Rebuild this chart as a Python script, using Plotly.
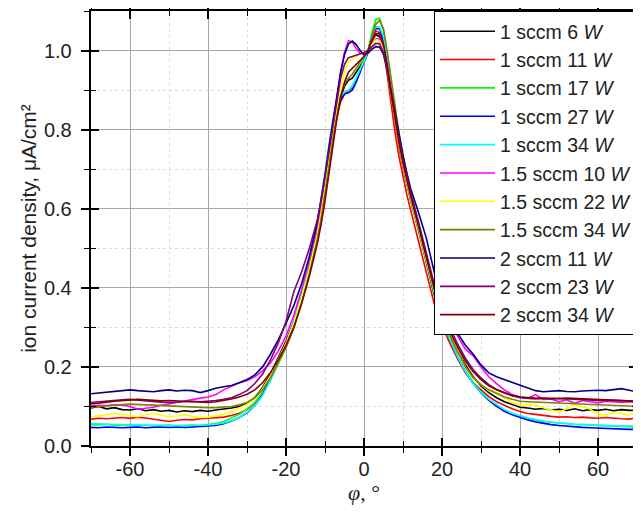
import plotly.graph_objects as go

phi = [-70, -68, -66, -64, -62, -60, -58, -56, -54, -52, -50, -48, -46, -44, -42,
       -40, -38, -36, -34, -32, -30, -28, -26, -24, -22, -20, -18, -16, -14, -12,
       -11, -10, -9, -8, -7, -6, -5, -4, -3, -2, -1, 0, 1, 2, 3, 4, 5, 6, 7, 8, 9, 10, 11,
       12, 14, 16, 18, 20, 22, 24, 26, 28, 30, 32, 34, 36, 38, 40, 42, 44, 46, 48, 50,
       52, 54, 56, 58, 60, 62, 64, 66, 68, 70]

x_tick_vals = [-60, -40, -20, 0, 20, 40, 60]
x_tick_text = ["-60", "-40", "-20", "0", "20", "40", "60"]
y_tick_vals = [0.0, 0.2, 0.4, 0.6, 0.8, 1.0]
y_tick_text = ["0.0", "0.2", "0.4", "0.6", "0.8", "1.0"]

s_1_6 = [0.096, 0.100, 0.094, 0.097, 0.092, 0.091, 0.094, 0.089, 0.092, 0.088, 0.090, 0.086, 0.089, 0.087, 0.090,
         0.088, 0.091, 0.093, 0.096, 0.100, 0.108, 0.122, 0.148, 0.182, 0.222, 0.265, 0.315, 0.382, 0.455, 0.540,
         0.59, 0.65, 0.72, 0.785, 0.84, 0.88, 0.91, 0.925, 0.93, 0.945, 0.96, 0.975, 0.995, 1.025, 1.04, 1.035, 1.01, 0.955, 0.885, 0.815, 0.755, 0.705, 0.66,
         0.62, 0.545, 0.465, 0.385, 0.325, 0.28, 0.24, 0.205, 0.175, 0.152, 0.135, 0.122, 0.112, 0.104, 0.098, 0.096, 0.093, 0.095, 0.091, 0.093,
         0.090, 0.094, 0.089, 0.092, 0.090, 0.093, 0.089, 0.092, 0.090, 0.091]

s_1_11 = [0.068, 0.070, 0.069, 0.071, 0.072, 0.070, 0.073, 0.071, 0.068, 0.064, 0.062, 0.065, 0.067, 0.066, 0.069,
          0.070, 0.071, 0.073, 0.077, 0.083, 0.092, 0.108, 0.135, 0.17, 0.21, 0.25, 0.30, 0.365, 0.44, 0.525,
          0.575, 0.635, 0.70, 0.765, 0.83, 0.87, 0.89, 0.898, 0.905, 0.925, 0.95, 0.972, 0.995, 1.03, 1.05, 1.045, 1.005, 0.935, 0.86, 0.79, 0.73, 0.68, 0.635,
          0.595, 0.515, 0.435, 0.36, 0.305, 0.26, 0.22, 0.185, 0.16, 0.142, 0.125, 0.112, 0.102, 0.094, 0.087, 0.082, 0.080, 0.077, 0.075, 0.073,
          0.074, 0.072, 0.073, 0.071, 0.070, 0.072, 0.070, 0.069, 0.068, 0.071]

s_1_17 = [0.054, 0.053, 0.055, 0.052, 0.053, 0.054, 0.052, 0.053, 0.051, 0.052, 0.053, 0.051, 0.052, 0.053, 0.052,
          0.054, 0.057, 0.062, 0.070, 0.080, 0.093, 0.110, 0.135, 0.168, 0.207, 0.25, 0.305, 0.37, 0.45, 0.54,
          0.595, 0.655, 0.725, 0.79, 0.845, 0.88, 0.895, 0.9, 0.91, 0.93, 0.955, 0.975, 1.0, 1.045, 1.078, 1.082, 1.05, 0.98, 0.905, 0.83, 0.765, 0.71, 0.665,
          0.62, 0.545, 0.46, 0.38, 0.315, 0.268, 0.225, 0.19, 0.16, 0.138, 0.118, 0.103, 0.091, 0.082, 0.075, 0.07, 0.066, 0.062, 0.06, 0.058,
          0.057, 0.055, 0.054, 0.053, 0.052, 0.051, 0.05, 0.05, 0.049, 0.048]

s_1_27 = [0.047, 0.046, 0.048, 0.047, 0.046, 0.047, 0.048, 0.046, 0.047, 0.048, 0.047, 0.048, 0.047, 0.048, 0.049,
          0.05, 0.052, 0.056, 0.063, 0.072, 0.084, 0.102, 0.13, 0.17, 0.212, 0.258, 0.31, 0.375, 0.455, 0.545,
          0.60, 0.66, 0.725, 0.785, 0.84, 0.875, 0.89, 0.893, 0.9, 0.92, 0.945, 0.97, 0.995, 1.035, 1.056, 1.055, 1.025, 0.965, 0.895, 0.825, 0.765, 0.715, 0.67,
          0.625, 0.55, 0.465, 0.385, 0.32, 0.27, 0.225, 0.188, 0.158, 0.135, 0.115, 0.1, 0.088, 0.079, 0.072, 0.066, 0.061, 0.057, 0.054, 0.052,
          0.05, 0.048, 0.047, 0.046, 0.045, 0.044, 0.044, 0.043, 0.042, 0.042]

s_1_34 = [0.057, 0.056, 0.055, 0.055, 0.054, 0.053, 0.054, 0.052, 0.053, 0.052, 0.051, 0.052, 0.051, 0.052, 0.052,
          0.053, 0.055, 0.058, 0.064, 0.072, 0.085, 0.102, 0.128, 0.165, 0.208, 0.258, 0.315, 0.385, 0.47, 0.565,
          0.625, 0.69, 0.76, 0.825, 0.865, 0.885, 0.895, 0.9, 0.91, 0.93, 0.95, 0.972, 0.998, 1.038, 1.06, 1.06, 1.035, 0.98, 0.91, 0.845, 0.785, 0.73, 0.685,
          0.64, 0.565, 0.48, 0.395, 0.325, 0.272, 0.226, 0.188, 0.158, 0.136, 0.118, 0.104, 0.092, 0.083, 0.077, 0.071, 0.067, 0.063, 0.06, 0.058,
          0.056, 0.055, 0.054, 0.053, 0.052, 0.052, 0.051, 0.051, 0.05, 0.05]

s_15_10 = [0.101, 0.103, 0.102, 0.104, 0.103, 0.1, 0.093, 0.095, 0.098, 0.103, 0.106, 0.11, 0.114, 0.118, 0.121,
           0.124, 0.13, 0.142, 0.15, 0.16, 0.165, 0.175, 0.19, 0.21, 0.24, 0.278, 0.33, 0.395, 0.47, 0.555,
           0.61, 0.675, 0.745, 0.815, 0.88, 0.945, 0.995, 1.025, 1.022, 1.005, 0.993, 0.99, 0.998, 1.018, 1.03, 1.03, 1.005, 0.955, 0.89, 0.825, 0.77, 0.72, 0.675,
           0.635, 0.56, 0.48, 0.405, 0.345, 0.31, 0.278, 0.245, 0.228, 0.2, 0.175, 0.158, 0.142, 0.13, 0.124, 0.121, 0.13, 0.118, 0.119, 0.112,
           0.117, 0.108, 0.115, 0.112, 0.109, 0.113, 0.111, 0.11, 0.112, 0.11]

s_15_22 = [0.074, 0.076, 0.079, 0.082, 0.08, 0.077, 0.074, 0.079, 0.082, 0.078, 0.074, 0.076, 0.079, 0.075, 0.072,
           0.073, 0.076, 0.08, 0.087, 0.095, 0.105, 0.12, 0.145, 0.178, 0.218, 0.26, 0.31, 0.375, 0.45, 0.535,
           0.59, 0.65, 0.72, 0.79, 0.85, 0.905, 0.948, 0.972, 0.98, 0.985, 0.99, 0.993, 1.0, 1.015, 1.027, 1.025, 1.0, 0.95, 0.885, 0.82, 0.76, 0.71, 0.665,
           0.625, 0.55, 0.47, 0.39, 0.33, 0.283, 0.24, 0.2, 0.172, 0.155, 0.14, 0.137, 0.122, 0.11, 0.104, 0.104, 0.103, 0.097, 0.091, 0.085,
           0.095, 0.104, 0.1, 0.093, 0.08, 0.078, 0.084, 0.082, 0.078, 0.088]

s_15_34 = [0.098, 0.1, 0.102, 0.104, 0.105, 0.106, 0.105, 0.104, 0.103, 0.102, 0.101, 0.1, 0.099, 0.098, 0.097,
           0.097, 0.097, 0.098, 0.1, 0.104, 0.11, 0.122, 0.142, 0.172, 0.21, 0.25, 0.298, 0.36, 0.435, 0.52,
           0.575, 0.635, 0.705, 0.775, 0.835, 0.885, 0.915, 0.93, 0.94, 0.955, 0.97, 0.985, 1.0, 1.035, 1.066, 1.076, 1.055, 0.995, 0.925, 0.855, 0.79, 0.735, 0.685,
           0.64, 0.56, 0.475, 0.395, 0.33, 0.28, 0.238, 0.2, 0.172, 0.155, 0.142, 0.132, 0.124, 0.118, 0.113, 0.112, 0.111, 0.11, 0.11, 0.109,
           0.108, 0.107, 0.106, 0.105, 0.104, 0.103, 0.102, 0.101, 0.101, 0.1]

s_2_11 = [0.132, 0.134, 0.137, 0.139, 0.14, 0.142, 0.14, 0.138, 0.137, 0.14, 0.142, 0.139, 0.141, 0.14, 0.135,
          0.14, 0.146, 0.15, 0.153, 0.16, 0.168, 0.18, 0.2, 0.232, 0.268, 0.31, 0.355, 0.41, 0.48, 0.565,
          0.62, 0.685, 0.755, 0.82, 0.885, 0.945, 0.99, 1.016, 1.024, 1.015, 1.0, 0.99, 0.993, 1.003, 1.01, 1.009, 0.99, 0.95, 0.895, 0.84, 0.785, 0.735, 0.69,
          0.65, 0.59, 0.525, 0.44, 0.36, 0.31, 0.285, 0.255, 0.232, 0.205, 0.185, 0.175, 0.168, 0.162, 0.155, 0.147, 0.14, 0.137, 0.138, 0.14,
          0.138, 0.137, 0.139, 0.14, 0.141, 0.14, 0.143, 0.145, 0.141, 0.137]

s_2_23 = [0.11, 0.112, 0.114, 0.116, 0.117, 0.118, 0.116, 0.114, 0.112, 0.111, 0.11, 0.111, 0.112, 0.113, 0.112,
          0.113, 0.115, 0.118, 0.122, 0.13, 0.14, 0.158, 0.182, 0.218, 0.26, 0.315, 0.39, 0.44, 0.5, 0.57,
          0.62, 0.68, 0.745, 0.81, 0.875, 0.93, 0.965, 0.982, 0.985, 0.988, 0.992, 0.995, 1.0, 1.01, 1.018, 1.017, 0.995, 0.95, 0.89, 0.83, 0.775, 0.725, 0.68,
          0.64, 0.565, 0.485, 0.41, 0.35, 0.3, 0.258, 0.222, 0.193, 0.172, 0.155, 0.143, 0.134, 0.127, 0.122, 0.12, 0.119, 0.12, 0.119, 0.12,
          0.119, 0.118, 0.117, 0.116, 0.115, 0.116, 0.115, 0.114, 0.113, 0.113]

s_2_34 = [0.106, 0.109, 0.111, 0.113, 0.115, 0.117, 0.118, 0.117, 0.115, 0.114, 0.115, 0.114, 0.112, 0.111, 0.11,
          0.11, 0.112, 0.115, 0.119, 0.124, 0.131, 0.142, 0.16, 0.185, 0.218, 0.255, 0.3, 0.36, 0.43, 0.51,
          0.56, 0.62, 0.69, 0.76, 0.825, 0.88, 0.92, 0.945, 0.955, 0.963, 0.975, 0.985, 0.998, 1.025, 1.043, 1.042, 1.015, 0.96, 0.89, 0.825, 0.765, 0.715, 0.67,
          0.63, 0.555, 0.475, 0.4, 0.34, 0.29, 0.25, 0.215, 0.188, 0.168, 0.152, 0.142, 0.135, 0.128, 0.124, 0.122, 0.121, 0.121, 0.12, 0.12,
          0.121, 0.12, 0.119, 0.118, 0.118, 0.117, 0.116, 0.115, 0.114, 0.113]

series = [
    ("1 sccm 6 <i>W</i>", s_1_6, "#000000"),
    ("1 sccm 11 <i>W</i>", s_1_11, "#FF0000"),
    ("1 sccm 17 <i>W</i>", s_1_17, "#00FF00"),
    ("1 sccm 27 <i>W</i>", s_1_27, "#0000FF"),
    ("1 sccm 34 <i>W</i>", s_1_34, "#00FFFF"),
    ("1.5 sccm 10 <i>W</i>", s_15_10, "#FF00FF"),
    ("1.5 sccm 22 <i>W</i>", s_15_22, "#FFFF00"),
    ("1.5 sccm 34 <i>W</i>", s_15_34, "#808000"),
    ("2 sccm 11 <i>W</i>", s_2_11, "#000080"),
    ("2 sccm 23 <i>W</i>", s_2_23, "#800080"),
    ("2 sccm 34 <i>W</i>", s_2_34, "#800000"),
]

X_RANGE = [-70, 70]
Y_RANGE = [0, 1.1]

fig = go.Figure()
for i, (name, ys, col) in enumerate(series):
    fig.add_trace(go.Scatter(x=phi, y=ys, mode="lines", name=name,
                             legendgroup=str(i),
                             line=dict(color=col, width=1.6)))

# empty trace that activates the overlay axes used for the inward half of the crossing ticks
fig.add_trace(go.Scatter(x=[None], y=[None], xaxis="x2", yaxis="y2",
                         showlegend=False, hoverinfo="skip", mode="lines"))

axis_common = dict(
    showline=True, linecolor="black", linewidth=1.5, mirror="ticks",
    ticks="outside", ticklen=8, tickwidth=1.5, tickcolor="black",
    showgrid=True, gridcolor="#a8a8a8", gridwidth=1,
    zeroline=False, automargin=False,
    tickfont=dict(family="Liberation Sans, Arial", size=20, color="#222"),
)

fig.update_layout(
    xaxis=dict(**axis_common, range=X_RANGE, tickmode="array",
               tickvals=x_tick_vals, ticktext=x_tick_text, ticklabelstandoff=-4,
               minor=dict(dtick=10, tick0=0, ticks="outside", ticklen=5, tickwidth=1.2,
                          tickcolor="black", showgrid=True, gridcolor="#dcdcdc",
                          griddash="dot", gridwidth=1),
               title=dict(text="<i>φ</i>, °", standoff=0,
                          font=dict(family="Liberation Serif, Times New Roman", size=22, color="#222"))),
    yaxis=dict(**axis_common, range=Y_RANGE, tickmode="array",
               tickvals=y_tick_vals, ticktext=[t + "\u00a0" for t in y_tick_text],
               minor=dict(dtick=0.1, tick0=0, ticks="outside", ticklen=5, tickwidth=1.2,
                          tickcolor="black", showgrid=True, gridcolor="#dcdcdc",
                          griddash="dot", gridwidth=1),
               title=dict(text="ion current density, μA/cm²", standoff=2,
                          font=dict(family="Liberation Sans, Arial", size=21, color="#222"))),
    xaxis2=dict(overlaying="x", anchor="y2", side="bottom", range=X_RANGE,
                tickmode="array", tickvals=x_tick_vals, showticklabels=False,
                ticks="inside", ticklen=8, tickwidth=1.5, tickcolor="black", mirror="ticks",
                showline=False, showgrid=False, zeroline=False, automargin=False,
                minor=dict(dtick=10, tick0=0, ticks="inside", ticklen=5, tickwidth=1.2,
                           tickcolor="black", showgrid=False)),
    yaxis2=dict(overlaying="y", anchor="x2", side="left", range=Y_RANGE,
                tickmode="array", tickvals=y_tick_vals, showticklabels=False,
                ticks="inside", ticklen=8, tickwidth=1.5, tickcolor="black", mirror="ticks",
                showline=False, showgrid=False, zeroline=False, automargin=False,
                minor=dict(dtick=0.1, tick0=0, ticks="inside", ticklen=5, tickwidth=1.2,
                           tickcolor="black", showgrid=False)),
    width=633, height=509,
    margin=dict(l=83, r=4, t=3, b=71),
    paper_bgcolor="white", plot_bgcolor="white",
    showlegend=True,
    legend=dict(x=1, y=1, xanchor="right", yanchor="top",
                bgcolor="white", bordercolor="black", borderwidth=1,
                font=dict(family="Liberation Sans, Arial", size=19.5, color="#222"),
                tracegroupgap=0, itemwidth=55),
)

fig.write_html("out.html")
